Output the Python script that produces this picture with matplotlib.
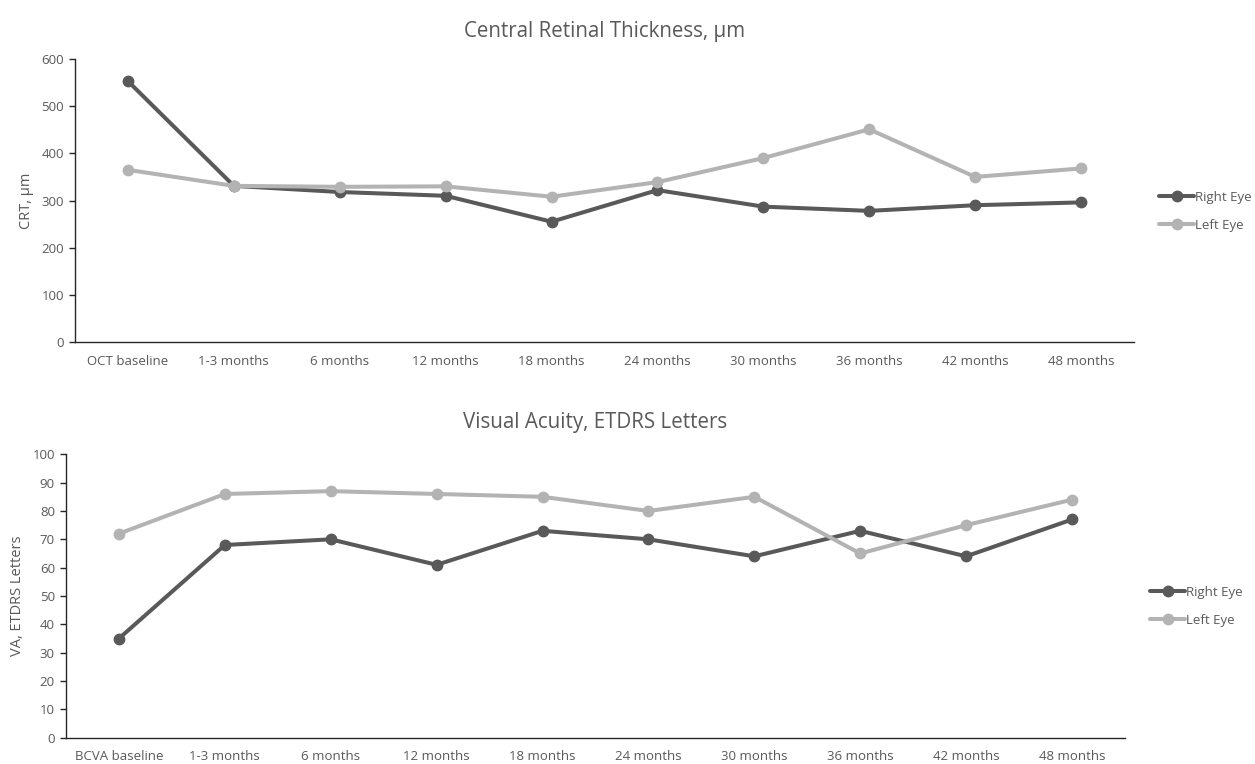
import matplotlib
matplotlib.use("Agg")
import matplotlib.pyplot as plt

plt.rcParams['font.family'] = ['Open Sans', 'DejaVu Sans']

# CRT panel
crt_labels = ["OCT baseline", "1-3 months", "6 months", "12 months", "18 months",
              "24 months", "30 months", "36 months", "42 months", "48 months"]
crt_right = [553, 331, 318, 310, 255, 322, 287, 278, 290, 296]
crt_left = [365, 331, 329, 330, 308, 339, 390, 451, 350, 368]

# Visual acuity panel
va_labels = ["BCVA baseline", "1-3 months", "6 months", "12 months", "18 months",
             "24 months", "30 months", "36 months", "42 months", "48 months"]
va_right = [35, 68, 70, 61, 73, 70, 64, 73, 64, 77]
va_left = [72, 86, 87, 86, 85, 80, 85, 65, 75, 84]

series_names = ["Right Eye", "Left Eye"]
dark = "#595959"
light = "#B3B3B3"
text_c = "#595959"

fig = plt.figure(figsize=(12.55, 7.64), dpi=100)
ax1 = fig.add_axes([75/1255, 1-342/764, (1134-75)/1255, (342-59)/764])
ax2 = fig.add_axes([66/1255, 1-737.7/764, (1125-66)/1255, (737.7-454.3)/764])


def draw(ax, labels, right, left, ylim, yticks, ylabel, title, legend_y, title_pad):
    x = list(range(len(labels)))
    ax.plot(x, right, color=dark, lw=2.9, marker='o', ms=7.5, label=series_names[0],
            solid_capstyle='round', solid_joinstyle='round', zorder=3)
    ax.plot(x, left, color=light, lw=2.9, marker='o', ms=7.5, label=series_names[1],
            solid_capstyle='round', solid_joinstyle='round', zorder=3)
    ax.set_xlim(-0.5, len(labels) - 0.5)
    ax.set_ylim(*ylim)
    ax.set_yticks(yticks)
    ax.set_xticks(x)
    ax.set_xticklabels(labels)
    for s in ['top', 'right']:
        ax.spines[s].set_visible(False)
    for s in ['left', 'bottom']:
        ax.spines[s].set_color('#262626')
        ax.spines[s].set_linewidth(1.0)
    ax.tick_params(axis='x', length=0, pad=9, labelsize=9.5, labelcolor=text_c)
    ax.tick_params(axis='y', length=4, width=1.0, color='#262626', pad=4,
                   labelsize=9.5, labelcolor=text_c)
    ax.set_ylabel(ylabel, fontsize=10.5, color=text_c, labelpad=5)
    ax.set_title(title, fontsize=14.8, color=text_c, pad=title_pad)
    ax.set_facecolor('white')
    leg = ax.legend(loc='center left', bbox_to_anchor=(1.024, legend_y), frameon=False,
                    fontsize=9.5, handlelength=2.6, handletextpad=0.1,
                    labelspacing=1.15, borderaxespad=0, borderpad=0)
    for t in leg.get_texts():
        t.set_color(text_c)


draw(ax1, crt_labels, crt_right, crt_left, (0, 600), range(0, 601, 100),
     "CRT, µm", "Central Retinal Thickness, µm", 0.462, 16)
draw(ax2, va_labels, va_right, va_left, (0, 100), range(0, 101, 10),
     "VA, ETDRS Letters", "Visual Acuity, ETDRS Letters", 0.464, 19)

fig.savefig("out.png", dpi=100, facecolor='white')
